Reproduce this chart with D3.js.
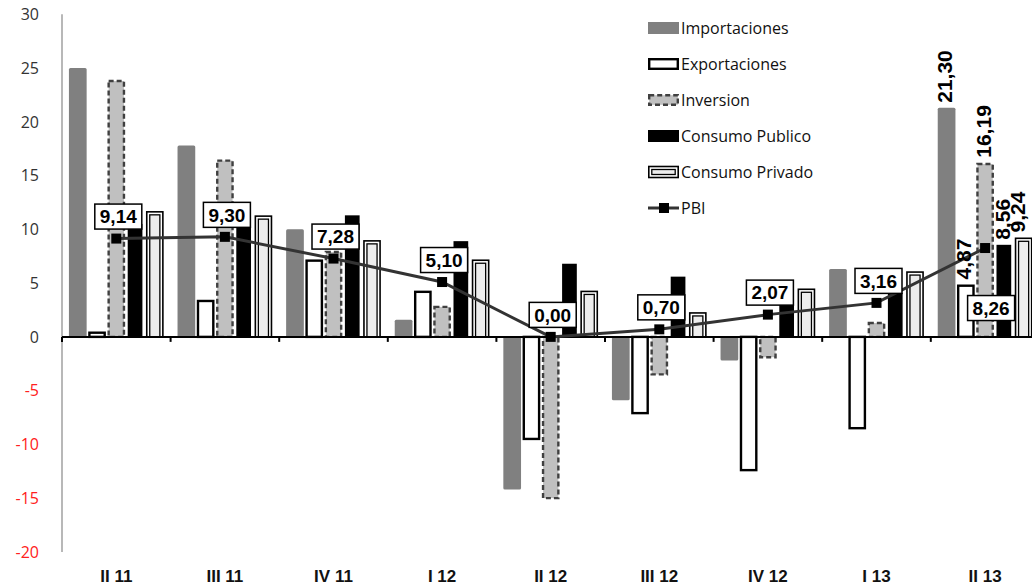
<!DOCTYPE html>
<html><head><meta charset="utf-8">
<script src="https://cdn.jsdelivr.net/npm/d3@7"></script>
<style>
html,body{margin:0;padding:0;background:#fff;}
svg{display:block;}
</style></head>
<body>
<script>
const categories = ["II 11","III 11","IV 11","I 12","II 12","III 12","IV 12","I 13","II 13"];
const seriesNames = ["Importaciones","Exportaciones","Inversion","Consumo Publico","Consumo Privado"];
const importaciones  = [25.0, 17.8, 10.0, 1.6, -14.2, -5.9, -2.2, 6.3, 21.30];
const exportaciones  = [0.5, 3.45, 7.2, 4.3, -9.6, -7.2, -12.5, -8.6, 4.87];
const inversion      = [23.9, 16.5, 8.0, 2.9, -15.1, -3.6, -2.0, 1.4, 16.19];
const consumoPublico = [10.5, 10.3, 11.3, 8.9, 6.8, 5.6, 3.5, 4.1, 8.56];
const consumoPrivado = [11.7, 11.3, 9.0, 7.2, 4.3, 2.3, 4.5, 6.1, 9.24];
const pbi            = [9.14, 9.30, 7.28, 5.10, 0.00, 0.70, 2.07, 3.16, 8.26];
const yTicks = [-20,-15,-10,-5,0,5,10,15,20,25,30];
const lineName = "PBI";

const W = 1032, H = 588;
const svg = d3.select("body").append("svg").attr("width", W).attr("height", H);

const left = 62, groupW = 108.6;
const y = d3.scaleLinear().domain([-20, 30]).range([552, 14.2]);
const x0 = d3.scaleBand().domain(categories).range([left, left + groupW * categories.length]).padding(0);
const x1 = d3.scaleBand().domain(seriesNames).range([0, x0.bandwidth()]).paddingInner(0.08).paddingOuter(0.36);

const seriesVals = [importaciones, exportaciones, inversion, consumoPublico, consumoPrivado];
const fmt = v => d3.format(".2f")(v).replace(".", ",");

// y axis line
svg.append("line").attr("x1", left).attr("x2", left).attr("y1", y(30)).attr("y2", y(-20))
  .attr("stroke", "#a0a0a0").attr("stroke-width", 1.5);

// y tick labels
svg.append("g").selectAll("text").data(yTicks).join("text")
  .attr("x", 39).attr("y", d => y(d)).attr("dy", "0.36em")
  .attr("text-anchor", "end")
  .attr("font-family", "'Open Sans', sans-serif").attr("font-size", 16)
  .attr("fill", d => d < 0 ? "#ff2020" : "#333")
  .text(d => d);

// bars
const gBars = svg.append("g");
seriesNames.forEach((name, si) => {
  const vals = seriesVals[si];
  const g = gBars.append("g");
  vals.forEach((v, ci) => {
    const bx = x0(categories[ci]) + x1(name);
    const bw = x1.bandwidth();
    const yTop = y(Math.max(0, v)), yBot = y(Math.min(0, v));
    const h = yBot - yTop;
    if (si === 0) {
      g.append("rect").attr("x", bx).attr("y", yTop).attr("width", bw).attr("height", h)
        .attr("rx", 1.5).attr("fill", "#808080");
    } else if (si === 1) {
      g.append("rect").attr("x", bx + 1.2).attr("y", yTop + (v >= 0 ? 1.2 : 0)).attr("width", bw - 2.4).attr("height", Math.max(0, h - 1.2))
        .attr("fill", "#fff").attr("stroke", "#000").attr("stroke-width", 2.4);
    } else if (si === 2) {
      g.append("rect").attr("x", bx + 1.2).attr("y", yTop + (v >= 0 ? 1.2 : 0)).attr("width", bw - 2.4).attr("height", Math.max(0, h - 1.2))
        .attr("fill", "#c0c0c0").attr("stroke", "#404040").attr("stroke-width", 2.4)
        .attr("stroke-dasharray", "5,3");
    } else if (si === 3) {
      g.append("rect").attr("x", bx + 1).attr("y", yTop).attr("width", bw - 3).attr("height", h)
        .attr("fill", "#000");
    } else {
      g.append("rect").attr("x", bx + 0.8).attr("y", yTop + 0.8).attr("width", bw - 1.6).attr("height", Math.max(0, h - 0.8))
        .attr("fill", "#fff").attr("stroke", "#000").attr("stroke-width", 1.6);
      g.append("rect").attr("x", bx + 3.8).attr("y", yTop + 3.8).attr("width", bw - 7.6).attr("height", Math.max(0, h - 3.8))
        .attr("fill", "#ededed").attr("stroke", "#000").attr("stroke-width", 1.3);
    }
  });
});

// x axis
svg.append("line").attr("x1", left).attr("x2", W).attr("y1", y(0)).attr("y2", y(0))
  .attr("stroke", "#000").attr("stroke-width", 2);
svg.append("g").selectAll("line").data(categories).join("line")
  .attr("x1", d => x0(d)).attr("x2", d => x0(d))
  .attr("y1", y(0)).attr("y2", y(0) + 5)
  .attr("stroke", "#000").attr("stroke-width", 2);
svg.append("g").selectAll("text").data(categories).join("text")
  .attr("x", d => x0(d) + x0.bandwidth() / 2).attr("y", 576).attr("dy", "0.36em")
  .attr("text-anchor", "middle")
  .attr("font-family", "'Liberation Sans Narrow', 'Arial Narrow', sans-serif")
  .attr("font-weight", "bold").attr("font-size", 17).attr("fill", "#111")
  .text(d => d);

// PBI line
const cx = (c) => x0(c) + x0.bandwidth() / 2;
const line = d3.line().x((d, i) => cx(categories[i])).y(d => y(d));
svg.append("path").datum(pbi).attr("d", line).attr("fill", "none")
  .attr("stroke", "#333").attr("stroke-width", 3);
svg.append("g").selectAll("rect").data(pbi).join("rect")
  .attr("x", (d, i) => cx(categories[i]) - 5).attr("y", d => y(d) - 5)
  .attr("width", 10).attr("height", 10).attr("fill", "#000");

// rotated labels for last category bars
const last = categories.length - 1;
const gRot = svg.append("g");
seriesNames.forEach((name, si) => {
  const v = seriesVals[si][last];
  const bx = Math.min(x0(categories[last]) + x1(name) + x1.bandwidth() / 2 - 2, W - 15);
  const by = y(v) - 5;
  gRot.append("text")
    .attr("transform", `translate(${bx},${by}) rotate(-90)`)
    .attr("dy", "0.36em")
    .attr("font-family", "'Liberation Sans', Arial, sans-serif")
    .attr("font-weight", "bold").attr("font-size", 21).attr("fill", "#000")
    .text(fmt(v));
});

// PBI labels
const gLab = svg.append("g");
pbi.forEach((v, i) => {
  const px = cx(categories[i]), py = y(v);
  let bxC = px + 2, byC = py - 22;
  if (i === last) { bxC = px + 6; byC = py + 60; }
  const bw = 47, bh = 25;
  gLab.append("rect").attr("x", bxC - bw / 2).attr("y", byC - bh / 2).attr("width", bw).attr("height", bh)
    .attr("fill", "#fff").attr("stroke", "#000").attr("stroke-width", 1.5);
  gLab.append("text").attr("x", bxC).attr("y", byC).attr("dy", "0.36em").attr("text-anchor", "middle")
    .attr("font-family", "'Liberation Sans', Arial, sans-serif")
    .attr("font-weight", "bold").attr("font-size", 19).attr("fill", "#000")
    .text(fmt(v));
});

// legend
const legendNames = seriesNames.concat([lineName]);
const lg = svg.append("g").attr("transform", "translate(648,28)");
legendNames.forEach((name, i) => {
  const g = lg.append("g").attr("transform", `translate(0,${i * 36})`);
  if (i === 0) {
    g.append("rect").attr("x", 0).attr("y", -6).attr("width", 31).attr("height", 12).attr("fill", "#808080");
  } else if (i === 1) {
    g.append("rect").attr("x", 1.2).attr("y", -4.8).attr("width", 28.6).attr("height", 9.6)
      .attr("fill", "#fff").attr("stroke", "#000").attr("stroke-width", 2.4);
  } else if (i === 2) {
    g.append("rect").attr("x", 1.2).attr("y", -4.8).attr("width", 28.6).attr("height", 9.6)
      .attr("fill", "#c0c0c0").attr("stroke", "#404040").attr("stroke-width", 2.4).attr("stroke-dasharray", "5,3");
  } else if (i === 3) {
    g.append("rect").attr("x", 0).attr("y", -6).attr("width", 31).attr("height", 12).attr("fill", "#000");
  } else if (i === 4) {
    g.append("rect").attr("x", 0.8).attr("y", -5.5).attr("width", 29.4).attr("height", 11)
      .attr("fill", "#fff").attr("stroke", "#000").attr("stroke-width", 1.6);
    g.append("rect").attr("x", 3.8).attr("y", -2.5).attr("width", 23.4).attr("height", 5)
      .attr("fill", "#ededed").attr("stroke", "#000").attr("stroke-width", 1.3);
  } else {
    g.append("line").attr("x1", 0).attr("x2", 31).attr("y1", 0).attr("y2", 0)
      .attr("stroke", "#333").attr("stroke-width", 3);
    g.append("rect").attr("x", 11).attr("y", -5).attr("width", 10).attr("height", 10).attr("fill", "#000");
  }
  g.append("text").attr("x", 33).attr("y", 0).attr("dy", "0.36em")
    .attr("font-family", "'Open Sans', sans-serif").attr("font-size", 16).attr("fill", "#111")
    .text(name);
});
</script>
</body></html>
